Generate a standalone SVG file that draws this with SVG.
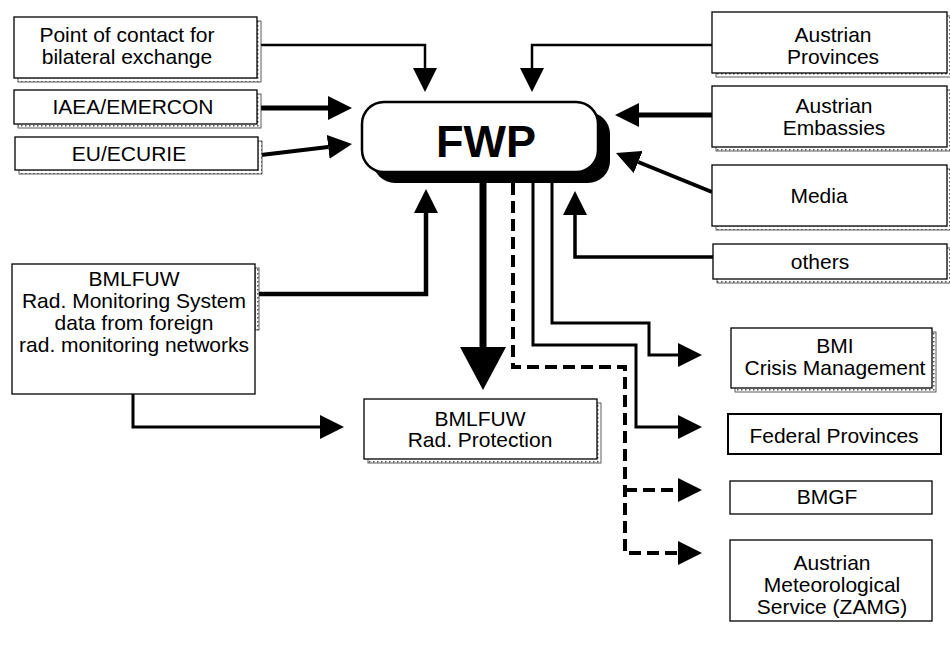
<svg xmlns="http://www.w3.org/2000/svg" width="950" height="648" viewBox="0 0 950 648">
<defs>
<pattern id="dots" width="4" height="4" patternUnits="userSpaceOnUse">
<rect width="4" height="4" fill="#ffffff"/>
<rect x="1" y="1" width="1.5" height="1.5" fill="#555"/>
</pattern>
<marker id="ah" markerUnits="userSpaceOnUse" viewBox="0 0 24 24" refX="0" refY="12" markerWidth="24" markerHeight="24" orient="auto">
<path d="M0,0 L24,12 L0,24 z" fill="#000"/>
</marker>
<marker id="ahBig" markerUnits="userSpaceOnUse" viewBox="0 0 43 46" refX="0" refY="23" markerWidth="43" markerHeight="46" orient="auto">
<path d="M0,0 L43,23 L0,46 z" fill="#000"/>
</marker>
</defs>
<style>
.box{fill:#fff;stroke:#000;stroke-width:1.3}
.sh{fill:url(#dots);stroke:#333;stroke-width:0.8}
.t{font-family:"Liberation Sans",Arial,sans-serif;font-size:21px;fill:#000;text-anchor:middle}
.c{fill:none;stroke:#000;stroke-linejoin:miter}
.a{marker-end:url(#ah)}
</style>
<rect width="950" height="648" fill="#fff"/>

<g id="connectors">
<path class="c a" d="M261,45 H425 V68" stroke-width="2.5"/>
<path class="c a" d="M261,108 H328" stroke-width="5"/>
<path class="c a" d="M261,155 L328.2,146.9" stroke-width="4"/>
<path class="c a" d="M712,45 H532 V68" stroke-width="2.5"/>
<path class="c a" d="M712,115 H639" stroke-width="5"/>
<path class="c a" d="M712,192 L638.2,162" stroke-width="4"/>
<path class="c a" d="M713,257 H575 V215" stroke-width="3.5"/>
<path class="c a" d="M258,294 H426 V213" stroke-width="4.5"/>
<path class="c a" d="M133,394 V427 H320" stroke-width="3"/>
<path class="c" d="M483,183 V347" stroke-width="7" marker-end="url(#ahBig)"/>
<path class="c a" d="M513,183 V367 H625 V553 H678" stroke-width="4" stroke-dasharray="12,6"/>
<path class="c a" d="M625,490 H678" stroke-width="4" stroke-dasharray="12,6"/>
<path class="c a" d="M533,183 V345 H636 V427 H678" stroke-width="3"/>
<path class="c a" d="M552,183 V323 H649 V355 H678" stroke-width="3"/>
</g>

<g id="fwp">
<rect x="373" y="112" width="237" height="71" rx="22" fill="#000"/>
<rect x="362" y="102" width="236" height="70" rx="22" fill="#fff" stroke="#000" stroke-width="2.5"/>
<text x="486" y="157" font-family="Liberation Sans,Arial,sans-serif" font-size="45" font-weight="bold" text-anchor="middle">FWP</text>
</g>

<g id="poc">
<rect class="sh" x="18" y="21" width="243" height="61"/>
<rect class="box" x="14" y="17" width="243" height="61"/>
<text class="t" x="127" y="42">Point of contact for</text>
<text class="t" x="127" y="64">bilateral exchange</text>
</g>
<g id="iaea">
<rect class="sh" x="18" y="94" width="243" height="34"/>
<rect class="box" x="14" y="90" width="243" height="34"/>
<text class="t" x="133" y="114">IAEA/EMERCON</text>
</g>
<g id="eu">
<rect class="sh" x="19" y="141" width="243" height="33"/>
<rect class="box" x="15" y="137" width="243" height="33"/>
<text class="t" x="129" y="161">EU/ECURIE</text>
</g>

<g id="aprov">
<rect class="sh" x="716" y="16" width="235" height="61"/>
<rect class="box" x="712" y="12" width="235" height="61"/>
<text class="t" x="833" y="42">Austrian</text>
<text class="t" x="833" y="64">Provinces</text>
</g>
<g id="aemb">
<rect class="sh" x="716" y="90" width="235" height="61"/>
<rect class="box" x="712" y="86" width="235" height="61"/>
<text class="t" x="834" y="113">Austrian</text>
<text class="t" x="834" y="135">Embassies</text>
</g>
<g id="media">
<rect class="sh" x="716" y="169" width="235" height="61"/>
<rect class="box" x="712" y="165" width="235" height="61"/>
<text class="t" x="819" y="203">Media</text>
</g>
<g id="others">
<rect class="sh" x="717" y="248" width="234" height="35"/>
<rect class="box" x="713" y="244" width="234" height="35"/>
<text class="t" x="820" y="269">others</text>
</g>

<g id="monitoring">
<rect class="sh" x="255" y="268" width="4" height="62"/>
<rect class="box" x="12" y="264" width="243" height="130"/>
<text class="t" x="134" y="286">BMLFUW</text>
<text class="t" x="134" y="308">Rad. Monitoring System</text>
<text class="t" x="134" y="330">data from foreign</text>
<text class="t" x="134" y="352">rad. monitoring networks</text>
</g>

<g id="radprot">
<rect class="sh" x="368" y="403" width="233" height="60"/>
<rect class="box" x="364" y="399" width="233" height="60"/>
<text class="t" x="480" y="426">BMLFUW</text>
<text class="t" x="480" y="447">Rad. Protection</text>
</g>

<g id="bmi">
<rect class="sh" x="735" y="332" width="201" height="60"/>
<rect class="box" x="731" y="328" width="201" height="60"/>
<text class="t" x="835" y="353">BMI</text>
<text class="t" x="835" y="375">Crisis Management</text>
</g>
<g id="fedprov">
<rect class="box" x="728" y="414" width="213" height="40" style="stroke-width:2"/>
<text class="t" x="834" y="443">Federal Provinces</text>
</g>
<g id="bmgf">
<rect class="box" x="730" y="481" width="202" height="33"/>
<text class="t" x="827" y="504">BMGF</text>
</g>
<g id="zamg">
<rect class="box" x="730" y="540" width="202" height="81"/>
<text class="t" x="832" y="570">Austrian</text>
<text class="t" x="832" y="592">Meteorological</text>
<text class="t" x="832" y="614">Service (ZAMG)</text>
</g>
</svg>
